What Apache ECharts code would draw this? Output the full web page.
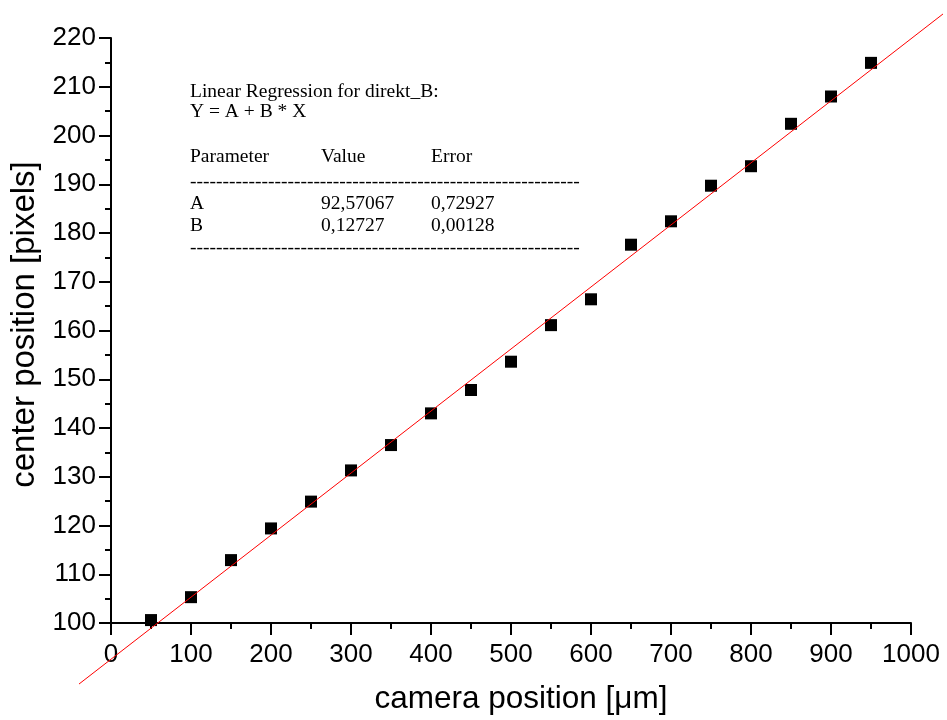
<!DOCTYPE html>
<html>
<head>
<meta charset="utf-8">
<script src="https://cdn.jsdelivr.net/npm/echarts@6/dist/echarts.min.js"></script>
<style>
html,body{margin:0;padding:0;background:#fff;}
#chart{width:947px;height:720px;}
</style>
</head>
<body>
<div id="chart"></div>
<script>
// Data
var cameraPosition = [50,100,150,200,250,300,350,400,450,500,550,600,650,700,750,800,850,900,950];
var centerPosition = [100.6,105.3,112.9,119.4,124.9,131.3,136.5,143.0,147.8,153.6,161.1,166.4,177.6,182.4,189.7,193.7,202.4,208.0,214.9];
var fitA = 92.57067;
var fitB = 0.12727;
var fitExtent = [-40, 1040];
var xTicks = [0,100,200,300,400,500,600,700,800,900,1000];
var yTicks = [100,110,120,130,140,150,160,170,180,190,200,210,220];
var annotationLines = ["Linear Regression for direkt_B:", "Y = A + B * X"];
var tableHeader = ["Parameter", "Value", "Error"];
var tableRows = [["A", "92,57067", "0,72927"], ["B", "0,12727", "0,00128"]];

var scatterData = cameraPosition.map(function(x, i){ return [x, centerPosition[i]]; });
var fitSegment = [[fitExtent[0], fitA + fitB * fitExtent[0], fitExtent[1], fitA + fitB * fitExtent[1]]];

var chart = echarts.init(document.getElementById('chart'), null, {renderer:'canvas'});

var serif = '"Liberation Serif", "Times New Roman", serif';
var sans = '"Liberation Sans", Arial, sans-serif';
var dashes = new Array(61).join('-');
var tfs = 19.5;
var gx = [190, 321, 431];
var graphics = [];
function addTextXY(x, y, s){
  graphics.push({type:'text', x:x, y:y, silent:true,
    style:{text:s, font: tfs + 'px ' + serif, fill:'#000', textVerticalAlign:'middle', textAlign:'left'}});
}
addTextXY(gx[0], 92, annotationLines[0]);
addTextXY(gx[0], 112, annotationLines[1]);
tableHeader.forEach(function(h, i){ addTextXY(gx[i], 157, h); });
addTextXY(gx[0], 182, dashes);
tableRows.forEach(function(r, j){
  r.forEach(function(c, i){ addTextXY(gx[i], 204 + j*22, c); });
});
addTextXY(gx[0], 248, dashes);

chart.setOption({
  animation:false,
  backgroundColor:'#fff',
  grid:{left:110, right:36, top:38, bottom:96, containLabel:false},
  xAxis:{
    type:'value', min:0, max:1000, interval:100,
    name:'camera position [μm]', nameLocation:'middle', nameGap:60,
    nameTextStyle:{fontFamily:sans, fontSize:31.5, color:'#000', padding:[0,0,0,20]},
    axisLine:{show:true, onZero:false, lineStyle:{color:'#000', width:2}},
    axisTick:{show:true, inside:false, length:12, lineStyle:{color:'#000', width:2}},
    minorTick:{show:true, splitNumber:2, length:6, lineStyle:{color:'#000', width:2}},
    splitLine:{show:false},
    axisLabel:{fontFamily:sans, fontSize:26, color:'#000', margin:19,
      formatter:function(v){ return xTicks.indexOf(v) >= 0 ? String(v) : ''; }}
  },
  yAxis:{
    type:'value', min:100, max:220, interval:10,
    name:'center position [pixels]', nameLocation:'middle', nameGap:70, nameRotate:90,
    nameTextStyle:{fontFamily:sans, fontSize:33, color:'#000', padding:[0,0,0,12]},
    axisLine:{show:true, onZero:false, lineStyle:{color:'#000', width:2}},
    axisTick:{show:true, inside:false, length:12, lineStyle:{color:'#000', width:2}},
    minorTick:{show:true, splitNumber:2, length:6, lineStyle:{color:'#000', width:2}},
    splitLine:{show:false},
    axisLabel:{fontFamily:sans, fontSize:26, color:'#000', margin:15,
      formatter:function(v){ return yTicks.indexOf(v) >= 0 ? String(v) : ''; }}
  },
  series:[
    {
      type:'custom', data:fitSegment, clip:false, silent:true, z:3,
      encode:{x:[0,2], y:[1,3]},
      renderItem:function(params, api){
        var p0 = api.coord([api.value(0), api.value(1)]);
        var p1 = api.coord([api.value(2), api.value(3)]);
        return {type:'line', shape:{x1:p0[0], y1:p0[1], x2:p1[0], y2:p1[1]},
          style:{stroke:'#ff0000', lineWidth:1, fill:null}};
      }
    },
    {
      type:'scatter', data:scatterData, symbol:'rect', symbolSize:12,
      itemStyle:{color:'#000', opacity:1}, z:2
    }
  ],
  graphic:graphics
});
</script>
</body>
</html>
